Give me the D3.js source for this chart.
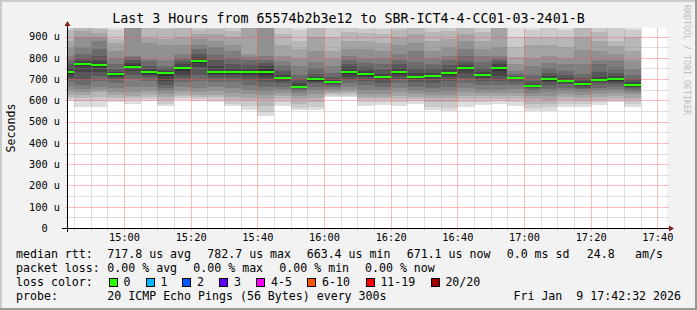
<!DOCTYPE html>
<html>
<head>
<meta charset="utf-8">
<script src="https://cdn.jsdelivr.net/npm/d3@7"></script>
<style>
  body { margin: 0; background: #f2f2f2; }
  svg text { font-family: 'DejaVu Sans Mono', monospace; fill: #000; white-space: pre; }
</style>
</head>
<body>
<div id="chart"></div>
<script>
// 5 minute bins, start time of each bin
var binTimes = ['14:40', '14:45', '14:50', '14:55', '15:00', '15:05', '15:10', '15:15', '15:20', '15:25',
                '15:30', '15:35', '15:40', '15:45', '15:50', '15:55', '16:00', '16:05', '16:10', '16:15',
                '16:20', '16:25', '16:30', '16:35', '16:40', '16:45', '16:50', '16:55', '17:00', '17:05',
                '17:10', '17:15', '17:20', '17:25', '17:30'];

// median rtt per bin, microseconds
var medianUs = [732, 770, 765, 723, 759, 732, 728, 751, 782.7, 732,
                732, 732, 732, 704, 663.4, 698, 685, 733, 723, 709,
                732, 709, 713, 727, 751, 718, 751, 704, 666, 698,
                693, 676, 695, 699, 671.1];

// the 20 sorted pings of each bin, microseconds (smoke)
var pingsUs = [
  [596, 605, 615, 630, 646, 662, 685, 700, 712, 722, 736, 750, 770, 790, 810, 850, 880, 930, 960, 1000],
  [568, 596, 612, 625, 640, 655, 672, 700, 735, 760, 775, 785, 800, 820, 850, 900, 925, 945, 960, 1000],
  [571, 599, 618, 638, 650, 665, 690, 715, 735, 755, 771, 785, 810, 840, 880, 900, 915, 935, 955, 980],
  [590, 600, 612, 625, 640, 660, 680, 700, 712, 716, 726, 735, 745, 770, 800, 830, 870, 890, 930, 960],
  [585, 600, 610, 620, 640, 665, 700, 720, 740, 752, 766, 775, 790, 805, 810, 950, 960, 970, 990, 1010],
  [598, 605, 615, 628, 645, 665, 690, 708, 720, 726, 734, 745, 760, 785, 795, 870, 895, 940, 970, 1000],
  [572, 585, 600, 615, 630, 645, 660, 672, 690, 715, 733, 740, 750, 760, 790, 860, 890, 935, 960, 990],
  [602, 610, 620, 630, 645, 665, 685, 705, 720, 740, 758, 770, 785, 800, 820, 860, 900, 940, 960, 1000],
  [595, 605, 615, 625, 640, 660, 690, 720, 755, 775, 790, 805, 820, 840, 860, 890, 910, 930, 960, 990],
  [590, 600, 615, 625, 645, 665, 685, 705, 718, 726, 738, 760, 790, 815, 850, 880, 910, 935, 960, 990],
  [572, 583, 600, 615, 635, 660, 685, 705, 718, 726, 738, 750, 770, 800, 830, 860, 900, 925, 950, 980],
  [553, 575, 595, 610, 630, 650, 670, 695, 715, 725, 738, 750, 765, 790, 805, 820, 950, 970, 990, 1010],
  [525, 545, 575, 605, 625, 645, 665, 685, 705, 720, 745, 760, 775, 790, 810, 950, 970, 990, 1010, 1030],
  [575, 590, 605, 620, 635, 650, 665, 680, 690, 697, 706, 720, 740, 760, 785, 810, 860, 910, 945, 980],
  [553, 565, 585, 605, 620, 635, 645, 652, 658, 662, 668, 680, 700, 720, 760, 800, 840, 880, 930, 960],
  [555, 570, 590, 610, 630, 650, 665, 680, 688, 692, 700, 710, 725, 750, 780, 830, 900, 940, 970, 1000],
  [617, 622, 628, 635, 645, 655, 665, 672, 678, 680, 686, 695, 710, 730, 760, 800, 830, 900, 940, 980],
  [615, 620, 628, 638, 650, 665, 680, 695, 710, 722, 740, 755, 770, 790, 810, 840, 880, 920, 950, 990],
  [572, 590, 605, 618, 632, 650, 670, 690, 708, 716, 726, 740, 755, 775, 800, 840, 880, 915, 935, 960],
  [578, 592, 605, 618, 632, 648, 665, 680, 695, 703, 712, 725, 745, 770, 800, 830, 870, 910, 935, 960],
  [575, 590, 605, 620, 640, 660, 680, 700, 715, 724, 736, 750, 770, 790, 820, 860, 900, 930, 960, 990],
  [585, 595, 605, 615, 630, 645, 665, 685, 698, 704, 712, 730, 750, 780, 830, 870, 910, 940, 970, 1000],
  [553, 570, 590, 610, 625, 640, 660, 680, 700, 708, 716, 730, 750, 770, 800, 830, 880, 920, 950, 980],
  [550, 565, 590, 610, 625, 645, 665, 690, 710, 720, 728, 745, 765, 790, 810, 850, 890, 925, 950, 980],
  [570, 590, 605, 620, 640, 660, 680, 705, 730, 745, 753, 765, 780, 810, 840, 880, 910, 940, 970, 1000],
  [578, 590, 605, 620, 635, 650, 670, 690, 705, 713, 720, 735, 750, 780, 810, 840, 880, 920, 950, 980],
  [585, 595, 605, 620, 635, 650, 670, 690, 715, 740, 758, 770, 785, 800, 810, 850, 940, 960, 980, 1000],
  [575, 590, 605, 620, 635, 655, 670, 685, 695, 702, 706, 710, 715, 725, 740, 771, 803, 850, 900, 960],
  [550, 565, 583, 605, 620, 635, 650, 658, 662, 664, 668, 675, 690, 720, 760, 800, 860, 900, 930, 970],
  [550, 568, 583, 600, 620, 640, 655, 670, 685, 693, 700, 715, 730, 750, 775, 810, 860, 900, 940, 980],
  [570, 585, 600, 615, 630, 645, 660, 675, 683, 688, 694, 705, 720, 740, 770, 800, 850, 900, 930, 960],
  [568, 582, 598, 612, 625, 640, 652, 660, 666, 671, 677, 690, 705, 725, 770, 835, 900, 940, 970, 1000],
  [578, 590, 603, 615, 630, 645, 660, 675, 685, 689, 695, 710, 735, 770, 790, 830, 880, 920, 960, 1000],
  [590, 598, 608, 620, 635, 650, 665, 678, 688, 693, 700, 715, 730, 755, 790, 820, 855, 880, 960, 990],
  [570, 585, 600, 613, 628, 640, 650, 658, 664, 668, 674, 685, 700, 720, 745, 790, 830, 900, 930, 960]
];

var yTickValues = [0, 100, 200, 300, 400, 500, 600, 700, 800, 900];

var titleText = 'Last 3 Hours from 65574b2b3e12 to SBR-ICT4-4-CC01-03-2401-B';
var rowLabels = ['median rtt:', 'packet loss:', 'loss color:', 'probe:'];
var rttStats = ['717.8 us avg', '782.7 us max', '663.4 us min', '671.1 us now', '0.0 ms sd', '24.8', 'am/s'];
var lossStats = ['0.00 % avg', '0.00 % max', '0.00 % min', '0.00 % now'];
var lossLabels = ['0', '1', '2', '3', '4-5', '6-10', '11-19', '20/20'];
var lossColors = ['#26ff00', '#00b8ff', '#0059ff', '#5e00ff', '#ff00ff', '#ff5500', '#ff0000', '#a10000'];
var probeText = '20 ICMP Echo Pings (56 Bytes) every 300s';
var stampText = 'Fri Jan  9 17:42:32 2026';

// layout
var W = 697, H = 310;
var plot = { left: 67, top: 28, width: 600, height: 200 };
var rttX = [107.3, 207.3, 306.7, 406.7, 506.7, 586.7, 635];
var lossX = [107.3, 193.3, 279.3, 365];
var swatchX = [108.7, 145.7, 182.3, 219.3, 256.3, 307.3, 365.7, 430.7];
var rowY = [258, 272, 286, 300];

var parseTime = d3.timeParse('%Y-%m-%d %H:%M');
var parseFull = d3.timeParse('%Y-%m-%d %H:%M:%S');
var bins = binTimes.map(function(t, i) {
  var t0 = parseTime('2026-01-09 ' + t);
  return { t0: t0, t1: d3.timeMinute.offset(t0, 5), median: medianUs[i], pings: pingsUs[i] };
});

var x = d3.scaleTime()
          .domain([parseFull('2026-01-09 14:42:54'), parseFull('2026-01-09 17:42:54')])
          .range([plot.left, plot.left + plot.width]);
var y = d3.scaleLinear()
          .domain([0, 940])
          .range([plot.top + plot.height, plot.top]);

var svg = d3.select('#chart').append('svg')
            .attr('width', W)
            .attr('height', H);

// frame
svg.append('rect').attr('width', W).attr('height', H).attr('fill', '#f2f2f2');
svg.append('rect').attr('x', 0).attr('y', 0).attr('width', W).attr('height', 2).attr('fill', '#cbcbcb');
svg.append('rect').attr('x', 0).attr('y', 0).attr('width', 2).attr('height', H).attr('fill', '#cbcbcb');
svg.append('rect').attr('x', 0).attr('y', H - 2).attr('width', W).attr('height', 2).attr('fill', '#999');
svg.append('rect').attr('x', W - 2).attr('y', 0).attr('width', 2).attr('height', H).attr('fill', '#999');

// canvas
svg.append('rect')
   .attr('x', plot.left).attr('y', plot.top)
   .attr('width', plot.width).attr('height', plot.height)
   .attr('fill', '#fff');

svg.append('clipPath').attr('id', 'plotclip')
   .append('rect')
   .attr('x', plot.left).attr('y', plot.top)
   .attr('width', plot.width).attr('height', plot.height);

// smoke: pair i covers ping i .. ping (21 - i), inner pairs darker
var half = 10;
var smoke = svg.append('g').attr('clip-path', 'url(#plotclip)').attr('shape-rendering', 'crispEdges');
bins.forEach(function(b) {
  for (var i = 1; i <= half; i++) {
    var c = Math.floor(190 / half * (half - i)) + 50;
    var lo = b.pings[i - 1], hi = b.pings[20 - i];
    smoke.append('rect')
         .attr('x', Math.round(x(b.t0)))
         .attr('width', Math.round(x(b.t1)) - Math.round(x(b.t0)))
         .attr('y', Math.round(y(hi)))
         .attr('height', Math.round(y(lo)) - Math.round(y(hi)))
         .attr('fill', d3.rgb(c, c, c));
  }
});

// grid (the dotted rrdtool grid, drawn as faint solid lines)
var minorColor = 'rgba(150,150,150,0.3)';
var majorColor = 'rgba(255,80,80,0.38)';
var grid = svg.append('g').attr('fill', 'none').attr('stroke-width', 1).attr('shape-rendering', 'crispEdges');

var minorTimes = d3.timeMinute.every(5).range(x.domain()[0], x.domain()[1]);
grid.selectAll('line.v').data(minorTimes).enter()
    .append('line')
    .attr('class', 'v')
    .attr('x1', function(d) { return Math.round(x(d)) + 0.5; })
    .attr('x2', function(d) { return Math.round(x(d)) + 0.5; })
    .attr('y1', plot.top).attr('y2', plot.top + plot.height + 3)
    .attr('stroke', function(d) { return d.getMinutes() % 20 === 0 ? majorColor : minorColor; });

var hLevels = d3.range(50, 940, 50);
grid.selectAll('line.h').data(hLevels).enter()
    .append('line')
    .attr('class', 'h')
    .attr('x1', plot.left - 2).attr('x2', plot.left + plot.width + 2)
    .attr('y1', function(d) { return Math.round(y(d)) + 0.5; })
    .attr('y2', function(d) { return Math.round(y(d)) + 0.5; })
    .attr('stroke', function(d) { return d % 100 === 0 ? majorColor : minorColor; });

// median
svg.append('g').attr('shape-rendering', 'crispEdges')
   .selectAll('rect').data(bins).enter()
   .append('rect')
   .attr('x', function(d) { return Math.max(plot.left, Math.round(x(d.t0))); })
   .attr('width', function(d) { return Math.round(x(d.t1)) - Math.max(plot.left, Math.round(x(d.t0))); })
   .attr('y', function(d) { return Math.round(y(d.median)) - 1; })
   .attr('height', 2)
   .attr('fill', lossColors[0]);

// axes
var axisY0 = Math.round(y(0)) + 0.5;
svg.append('line')
   .attr('x1', plot.left - 5).attr('x2', plot.left + plot.width + 4)
   .attr('y1', axisY0).attr('y2', axisY0)
   .attr('stroke', '#000').attr('shape-rendering', 'crispEdges');
svg.append('line')
   .attr('x1', plot.left + 0.5).attr('x2', plot.left + 0.5)
   .attr('y1', axisY0 + 3).attr('y2', plot.top - 3)
   .attr('stroke', '#000').attr('shape-rendering', 'crispEdges');
svg.append('path')
   .attr('d', 'M' + (plot.left - 2.5) + ',' + (plot.top - 2) + 'L' + (plot.left + 3.5) + ',' + (plot.top - 2) +
              'L' + (plot.left + 0.5) + ',' + (plot.top - 7) + 'Z')
   .attr('fill', '#8b1a1a');
svg.append('path')
   .attr('d', 'M' + (plot.left + plot.width + 2) + ',' + (axisY0 - 3) + 'L' + (plot.left + plot.width + 2) + ',' + (axisY0 + 3) +
              'L' + (plot.left + plot.width + 7) + ',' + axisY0 + 'Z')
   .attr('fill', '#8b1a1a');

var axisFont = 10.3;
svg.append('g').selectAll('text').data(yTickValues).enter()
   .append('text')
   .attr('x', function(d) { return d === 0 ? 60 - 2 * axisFont * 0.602 : 60; })
   .attr('y', function(d) { return y(d) + 3.8; })
   .attr('text-anchor', 'end')
   .attr('font-size', axisFont)
   .text(function(d) { return d === 0 ? '0' : d + ' u'; });

var xTicks = d3.timeMinute.every(20).range(x.domain()[0], x.domain()[1]);
var fmt = d3.timeFormat('%H:%M');
svg.append('g').selectAll('text').data(xTicks).enter()
   .append('text')
   .attr('x', function(d) { return x(d) + 0.5; })
   .attr('y', 241)
   .attr('text-anchor', 'middle')
   .attr('font-size', axisFont)
   .text(fmt);

// title and side labels
svg.append('text')
   .attr('x', W / 2).attr('y', 23)
   .attr('text-anchor', 'middle')
   .attr('font-size', 13.3)
   .text(titleText);

svg.append('text')
   .attr('transform', 'translate(11,' + (plot.top + plot.height / 2) + ') rotate(-90)')
   .attr('text-anchor', 'middle')
   .attr('dominant-baseline', 'central')
   .attr('font-size', 11.6)
   .text('Seconds');

svg.append('text')
   .attr('transform', 'translate(687,5) rotate(90)')
   .attr('dominant-baseline', 'central')
   .attr('font-size', 8.3)
   .style('fill', '#bdbdbd')
   .text('RRDTOOL / TOBI OETIKER');

// legend
var legend = svg.append('g').attr('font-size', 11.6);
rowLabels.forEach(function(l, i) {
  legend.append('text').attr('x', 16).attr('y', rowY[i]).text(l);
});
rttStats.forEach(function(s, i) {
  legend.append('text').attr('x', rttX[i]).attr('y', rowY[0]).text(s);
});
lossStats.forEach(function(s, i) {
  legend.append('text').attr('x', lossX[i]).attr('y', rowY[1]).text(s);
});
lossLabels.forEach(function(l, i) {
  legend.append('rect')
        .attr('x', Math.round(swatchX[i]) + 0.5).attr('y', rowY[2] - 7.5)
        .attr('width', 8).attr('height', 8)
        .attr('fill', lossColors[i])
        .attr('stroke', '#000').attr('stroke-width', 1);
  legend.append('text').attr('x', swatchX[i] + 14.7).attr('y', rowY[2]).text(l);
});
legend.append('text').attr('x', 107.3).attr('y', rowY[3]).text(probeText);
legend.append('text').attr('x', 681).attr('y', rowY[3]).attr('text-anchor', 'end').text(stampText);
</script>
</body>
</html>
